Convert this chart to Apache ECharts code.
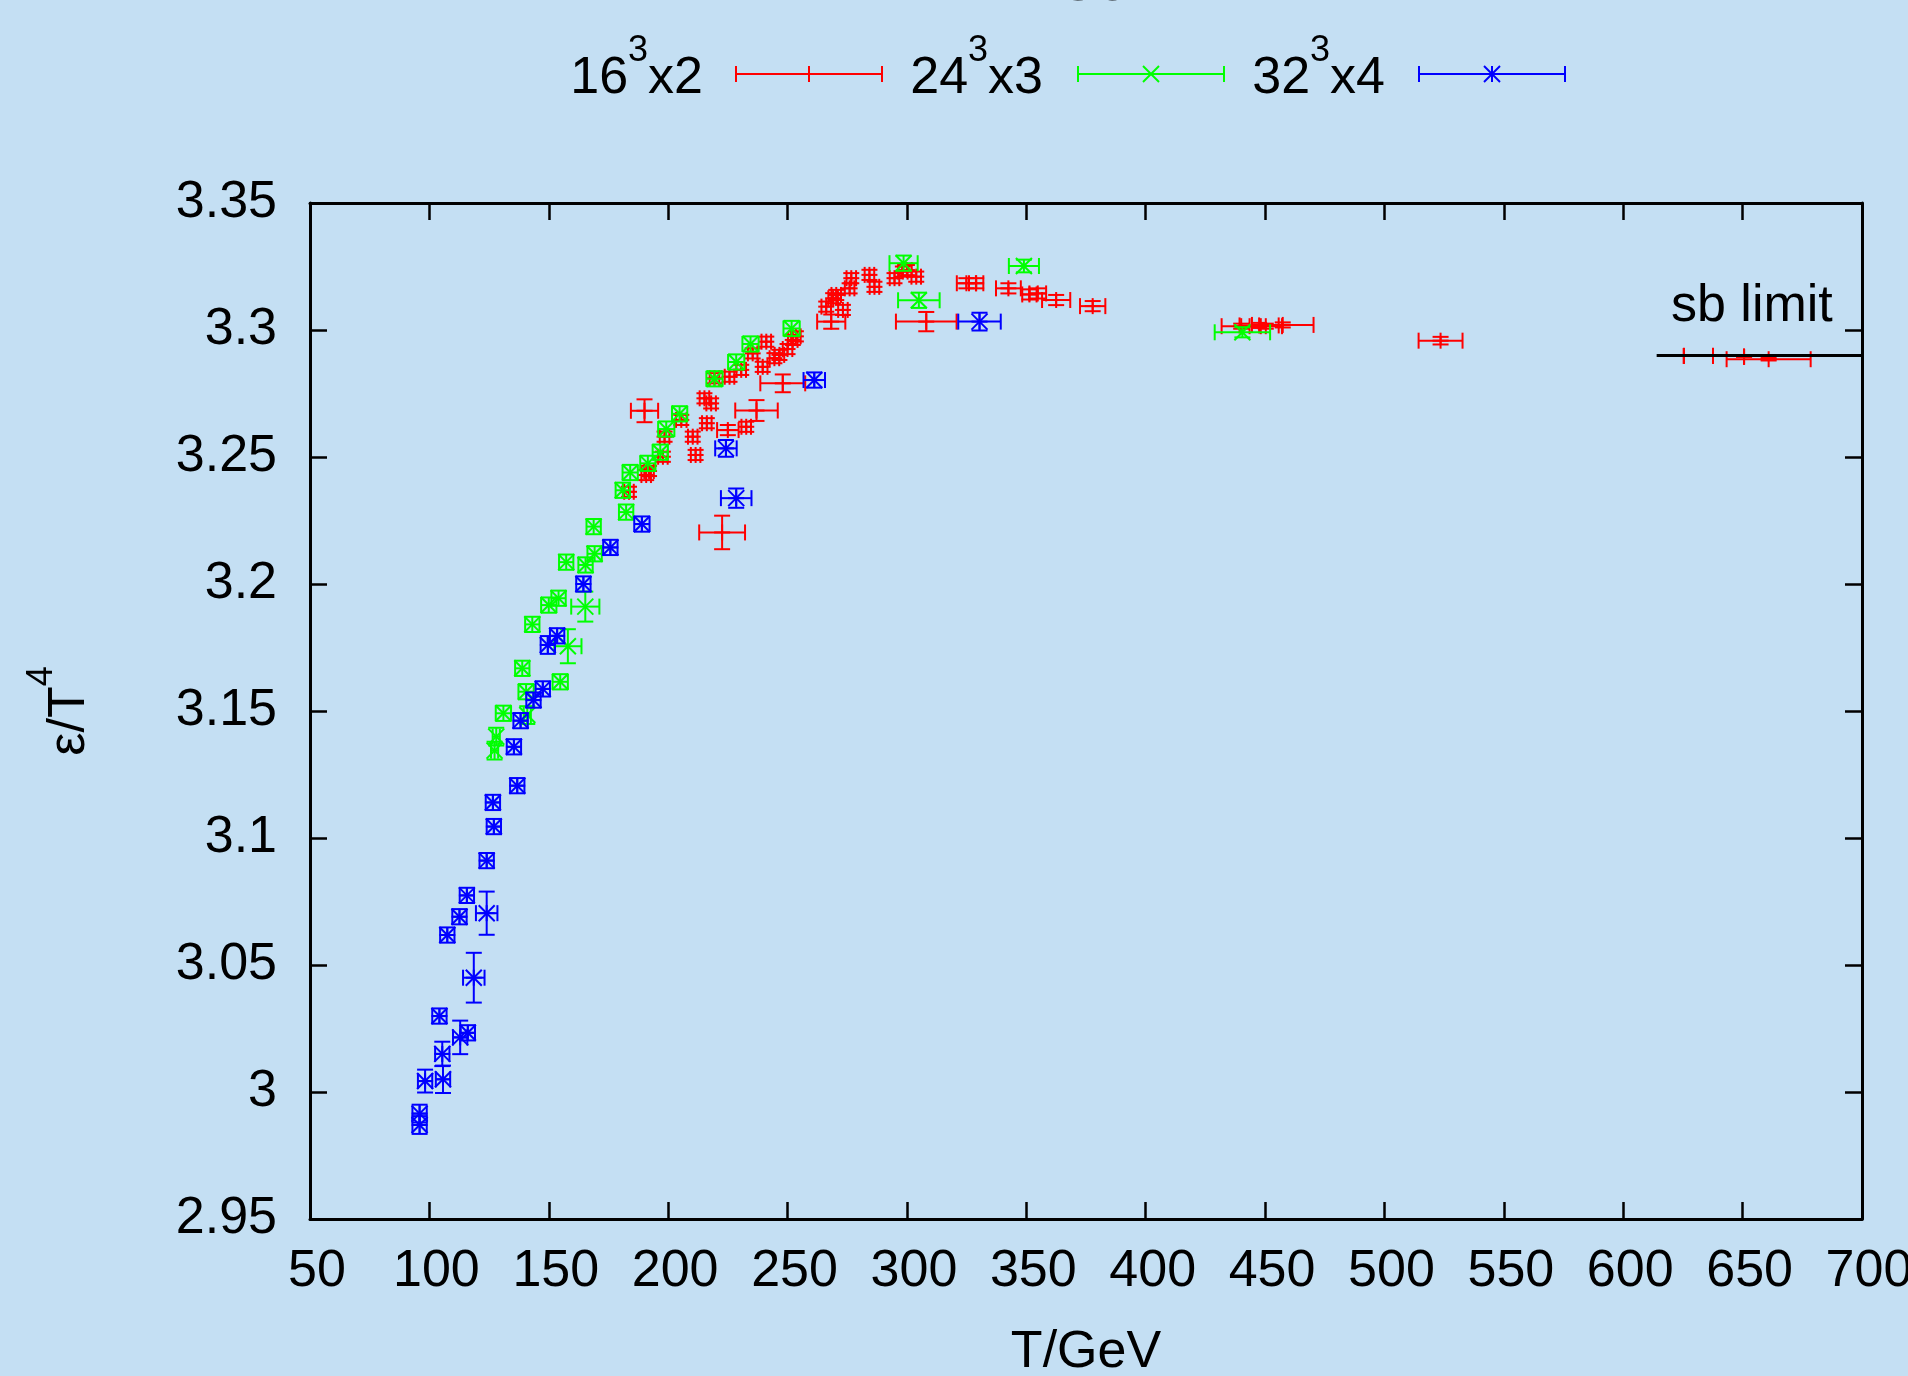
<!DOCTYPE html>
<html>
<head>
<meta charset="utf-8">
<title>energy density vs T</title>
<script src="https://cdn.jsdelivr.net/npm/echarts@6/dist/echarts.min.js"></script>
<style>
  html, body { margin: 0; padding: 0; background: #c4dff3; }
  #chart { width: 1908px; height: 1376px; }
</style>
</head>
<body>
<div id="chart"></div>
<script>
// rows: [T (GeV), eps/T^4, dT, d(eps/T^4)]
const red16x2 = [
  [183.6, 3.2363, 2.0, 0.002], [190.1, 3.2682, 5.7, 0.0045], [190.8, 3.2429, 2.0, 0.002],
  [192.0, 3.2445, 2.0, 0.002], [197.8, 3.2501, 2.0, 0.002], [198.5, 3.2580, 2.0, 0.002],
  [205.5, 3.2646, 2.2, 0.002], [210.3, 3.2580, 2.0, 0.002], [211.5, 3.2508, 2.0, 0.002],
  [215.2, 3.2731, 2.0, 0.002], [216.2, 3.2633, 2.0, 0.002], [218.0, 3.2711, 2.0, 0.002],
  [219.4, 3.2810, 2.0, 0.002], [222.6, 3.2203, 9.6, 0.0066], [225.0, 3.2606, 4.5, 0.002],
  [225.7, 3.2816, 2.0, 0.002], [230.6, 3.2843, 2.0, 0.002], [232.7, 3.2619, 2.0, 0.002],
  [235.4, 3.2908, 2.0, 0.002], [237.0, 3.2683, 8.9, 0.0041], [239.6, 3.2855, 2.0, 0.002],
  [241.1, 3.2954, 2.0, 0.002], [244.5, 3.2889, 2.0, 0.002], [246.6, 3.2902, 2.0, 0.002],
  [248.0, 3.2790, 9.4, 0.0035], [250.0, 3.2925, 2.0, 0.002], [252.2, 3.2961, 2.0, 0.002],
  [253.5, 3.2975, 2.0, 0.002], [266.2, 3.3092, 2.0, 0.002], [268.3, 3.3033, 5.9, 0.0028],
  [269.1, 3.3125, 2.0, 0.002], [270.4, 3.3138, 2.0, 0.002], [273.2, 3.3079, 2.0, 0.002],
  [276.0, 3.3164, 2.0, 0.002], [276.7, 3.3204, 2.0, 0.002], [284.3, 3.3217, 2.0, 0.002],
  [286.4, 3.3170, 2.0, 0.002], [294.8, 3.3204, 2.0, 0.002], [298.3, 3.3230, 2.0, 0.002],
  [300.0, 3.3236, 2.0, 0.002], [303.9, 3.3210, 2.0, 0.002], [308.1, 3.3033, 12.7, 0.0038],
  [324.9, 3.3184, 4.0, 0.002], [329.0, 3.3184, 3.0, 0.002], [342.5, 3.3164, 5.2, 0.002],
  [351.3, 3.3140, 3.0, 0.002], [354.8, 3.3144, 3.5, 0.002], [362.5, 3.3118, 5.9, 0.002],
  [377.8, 3.3094, 5.3, 0.002], [440.0, 3.3015, 8.2, 0.001], [447.5, 3.3018, 8.2, 0.001],
  [450.3, 3.3015, 6.8, 0.001], [457.4, 3.3020, 12.9, 0.001], [523.5, 3.2958, 9.2, 0.0015],
  [625.4, 3.2898, 0, 0], [637.6, 3.2898, 0, 0], [650.6, 3.2895, 0, 0],
  [660.9, 3.2885, 17.6, 0.0005]
]

const green24x3 = [
  [127.3, 3.1344, 1.5, 0.0035], [128.0, 3.1399, 1.5, 0.0035], [131.0, 3.1491, 3.2, 0.003],
  [138.9, 3.1668, 3.0, 0.003], [140.5, 3.1576, 3.2, 0.003], [141.0, 3.1484, 1.5, 0.0035],
  [143.1, 3.1841, 3.0, 0.003], [150.0, 3.1917, 3.2, 0.003], [154.1, 3.1944, 3.0, 0.003],
  [154.8, 3.1615, 3.2, 0.003], [157.3, 3.2086, 3.0, 0.003], [158.0, 3.1755, 5.7, 0.0067],
  [165.3, 3.1911, 5.9, 0.0059], [165.4, 3.2075, 3.0, 0.003], [168.8, 3.2226, 3.0, 0.003],
  [169.2, 3.2119, 3.0, 0.003], [181.0, 3.2369, 3.0, 0.003], [182.4, 3.2283, 3.0, 0.003],
  [184.1, 3.2439, 3.2, 0.003], [191.5, 3.2475, 3.2, 0.003], [196.7, 3.2519, 3.2, 0.003],
  [199.2, 3.2610, 3.4, 0.003], [204.8, 3.2670, 3.2, 0.003], [219.4, 3.2808, 3.4, 0.003],
  [228.5, 3.2874, 3.4, 0.003], [234.5, 3.2945, 3.4, 0.003], [251.7, 3.3006, 3.4, 0.003],
  [298.6, 3.3263, 5.9, 0.003], [305.0, 3.3117, 8.7, 0.003], [349.0, 3.3252, 6.3, 0.0025],
  [440.5, 3.2991, 11.6, 0.002]
]

const blue32x4 = [
  [95.9, 2.9915, 3.0, 0.0035], [95.9, 2.9870, 3.0, 0.0035], [98.2, 3.0043, 3.0, 0.0045],
  [104.2, 3.0299, 3.0, 0.003], [105.4, 3.0150, 3.0, 0.0048], [105.7, 3.0050, 3.0, 0.0054],
  [107.5, 3.0618, 3.0, 0.003], [112.6, 3.0690, 3.0, 0.003], [112.9, 3.0215, 3.0, 0.0066],
  [115.7, 3.0774, 3.0, 0.003], [116.1, 3.0233, 3.0, 0.003], [118.6, 3.0450, 4.5, 0.0098],
  [124.0, 3.0911, 3.0, 0.003], [124.0, 3.0704, 4.5, 0.0085], [126.6, 3.1140, 3.0, 0.003],
  [127.0, 3.1045, 3.0, 0.003], [135.4, 3.1359, 3.0, 0.003], [136.8, 3.1206, 3.0, 0.003],
  [138.2, 3.1462, 3.0, 0.003], [143.6, 3.1543, 3.0, 0.003], [147.5, 3.1587, 3.0, 0.003],
  [149.6, 3.1760, 3.0, 0.0035], [153.5, 3.1796, 3.0, 0.003], [164.5, 3.2000, 3.0, 0.003],
  [175.8, 3.2144, 3.0, 0.003], [189.0, 3.2236, 3.2, 0.003], [224.2, 3.2534, 4.5, 0.0033],
  [228.5, 3.2338, 6.4, 0.0038], [261.2, 3.2803, 4.5, 0.003], [330.4, 3.3033, 8.9, 0.0035]
]

// Stefan-Boltzmann limit, drawn over the right end of the range
const sbLimit = [[614, 3.29], [700, 3.29]]

const xTicks = { min: 50, max: 700, step: 50 }
const yTicks = { min: 2.95, max: 3.35, step: 0.05 }

const FONT = '"Liberation Sans", Arial, Helvetica, sans-serif'
const CAP = 8   // errorbar cap half length (px)
const PT = 8    // point symbol half size (px)
const LW = 2

// segments of a gnuplot point symbol around (cx, cy)
function symbolSegs(shape, cx, cy) {
  const s = []
  if (shape === 'plus' || shape === 'star') {
    s.push([cx - PT, cy, cx + PT, cy], [cx, cy - PT, cx, cy + PT])
  }
  if (shape === 'cross' || shape === 'star') {
    s.push([cx - PT, cy - PT, cx + PT, cy + PT], [cx - PT, cy + PT, cx + PT, cy - PT])
  }
  return s
}

function toLines(segs, color) {
  return segs.map((s) => ({
    type: 'line',
    shape: { x1: s[0], y1: s[1], x2: s[2], y2: s[3] },
    style: { stroke: color, lineWidth: LW }
  }))
}

// xy errorbars + point symbol
function xyErrorBars(shape, color) {
  return (params, api) => {
    const t = api.value(0), e = api.value(1), dt = api.value(2), de = api.value(3)
    const c = api.coord([t, e])
    const xl = api.coord([t - dt, e])[0]
    const xr = api.coord([t + dt, e])[0]
    const yt = api.coord([t, e + de])[1]
    const yb = api.coord([t, e - de])[1]
    const segs = [
      [xl, c[1], xr, c[1]],
      [xl, c[1] - CAP, xl, c[1] + CAP],
      [xr, c[1] - CAP, xr, c[1] + CAP],
      [c[0], yt, c[0], yb],
      [c[0] - CAP, yt, c[0] + CAP, yt],
      [c[0] - CAP, yb, c[0] + CAP, yb]
    ].concat(symbolSegs(shape, c[0], c[1]))
    return { type: 'group', children: toLines(segs, color) }
  }
}

const seriesDefs = [
  { name: '16³x2', base: '16', exp: '3', tail: 'x2', data: red16x2, color: '#ff0000', shape: 'plus' },
  { name: '24³x3', base: '24', exp: '3', tail: 'x3', data: green24x3, color: '#00ff00', shape: 'cross' },
  { name: '32³x4', base: '32', exp: '3', tail: 'x4', data: blue32x4, color: '#0000ff', shape: 'star' }
]

// key layout (px): text right edge, sample start/end
const keyPos = [
  { textRight: 703, x0: 736, x1: 882 },
  { textRight: 1043, x0: 1078, x1: 1224 },
  { textRight: 1385, x0: 1419, x1: 1565 }
]
const KEY_Y = 74

// base text sits 10px below the box centre, exponent 28px above the base
const supRich = {
  b: { fontSize: 52, lineHeight: 72, verticalAlign: 'bottom', fill: '#000', color: '#000', fontFamily: FONT },
  s: { fontSize: 36, lineHeight: 36, verticalAlign: 'top', fill: '#000', color: '#000', fontFamily: FONT }
}

const graphicEls = []
seriesDefs.forEach((d, i) => {
  const k = keyPos[i]
  graphicEls.push({
    type: 'text',
    x: k.textRight,
    y: KEY_Y - 5,
    style: {
      text: `{b|${d.base}}{s|${d.exp}}{b|${d.tail}}`,
      rich: supRich,
      align: 'right',
      verticalAlign: 'middle'
    }
  })
  const mid = (k.x0 + k.x1) / 2
  const segs = [
    [k.x0, KEY_Y, k.x1, KEY_Y],
    [k.x0, KEY_Y - CAP, k.x0, KEY_Y + CAP],
    [k.x1, KEY_Y - CAP, k.x1, KEY_Y + CAP]
  ].concat(symbolSegs(d.shape, mid, KEY_Y))
  toLines(segs, d.color).forEach((l) => graphicEls.push(l))
})

// x2 axis title, cut off by the top edge
graphicEls.push({
  type: 'text', x: 1086, y: -14,
  style: { text: 'T/GeV', fontSize: 52, fontFamily: FONT, fill: '#000', align: 'center', verticalAlign: 'middle' }
})
graphicEls.push({
  type: 'text', x: 1671, y: 307,
  style: { text: 'sb limit', fontSize: 52, fontFamily: FONT, fill: '#000', align: 'left', verticalAlign: 'middle' }
})

const axisLine = { show: true, onZero: false, lineStyle: { color: '#000', width: 3 } }
const axisTick = { show: true, inside: true, length: 17, lineStyle: { color: '#000', width: 2.5 } }

const chart = echarts.init(document.getElementById('chart'), null, { renderer: 'canvas' })

chart.setOption({
  backgroundColor: '#c4dff3',
  animation: false,
  textStyle: { fontFamily: FONT },
  grid: { left: 310, right: 46, top: 203, bottom: 157, containLabel: false, outerBoundsMode: 'none' },
  xAxis: [
    {
      type: 'value', position: 'bottom',
      min: xTicks.min, max: xTicks.max, interval: xTicks.step,
      axisLine, axisTick,
      axisLabel: { color: '#000', fontSize: 52, fontFamily: FONT, margin: 27, padding: [0, 0, 0, 14] },
      splitLine: { show: false },
      name: 'T/GeV', nameLocation: 'middle', nameGap: 108,
      nameTextStyle: { color: '#000', fontSize: 52, fontFamily: FONT }
    },
    {
      type: 'value', position: 'top',
      min: xTicks.min, max: xTicks.max, interval: xTicks.step,
      axisLine, axisTick, axisLabel: { show: false }, splitLine: { show: false }
    }
  ],
  yAxis: [
    {
      type: 'value', position: 'left',
      min: yTicks.min, max: yTicks.max, interval: yTicks.step,
      axisLine, axisTick,
      axisLabel: { color: '#000', fontSize: 52, fontFamily: FONT, margin: 33 },
      splitLine: { show: false },
      name: '{b|ε/T}{s|4}', nameLocation: 'middle', nameRotate: 90, nameGap: 214,
      nameTextStyle: { rich: supRich }
    },
    {
      type: 'value', position: 'right',
      min: yTicks.min, max: yTicks.max, interval: yTicks.step,
      axisLine, axisTick, axisLabel: { show: false }, splitLine: { show: false }
    }
  ],
  series: seriesDefs.map((d) => ({
    name: d.name,
    type: 'custom',
    xAxisIndex: 0,
    yAxisIndex: 0,
    itemStyle: { color: d.color },
    encode: { x: 0, y: 1 },
    renderItem: xyErrorBars(d.shape, d.color),
    data: d.data,
    silent: true
  })).concat([
    {
      name: 'sb limit',
      type: 'line',
      data: sbLimit,
      symbol: 'none',
      lineStyle: { color: '#000', width: 3 },
      silent: true
    }
  ]),
  graphic: { elements: graphicEls }
})
</script>
</body>
</html>
